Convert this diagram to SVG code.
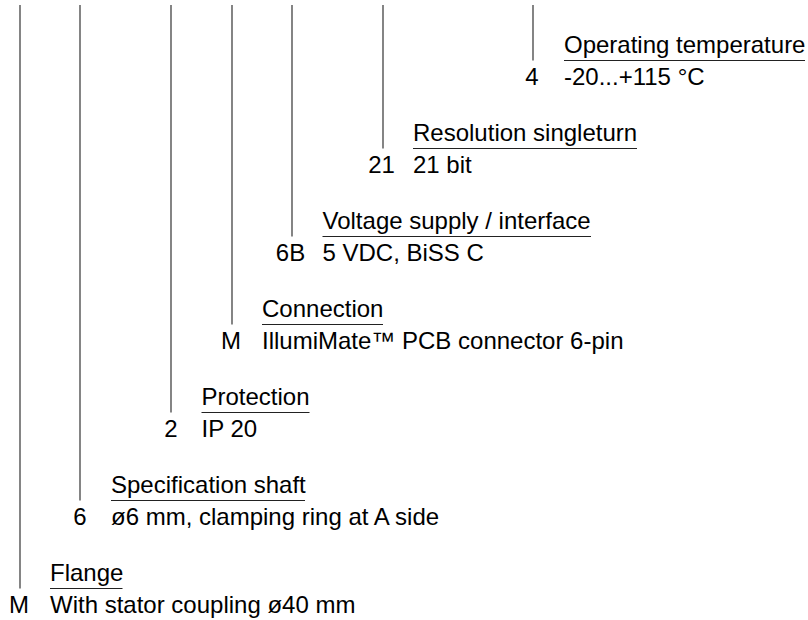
<svg xmlns="http://www.w3.org/2000/svg" width="808" height="620" viewBox="0 0 808 620">
<style>
text{font-family:"Liberation Sans",Arial,sans-serif;font-size:24px;fill:#000}
.code{text-anchor:middle}
.ul{stroke:#222;stroke-width:1.2}
.conn line{stroke:#333;stroke-width:1.2}
</style>
<rect width="808" height="620" fill="#fff"/>
<g id="connectors" class="conn">
<line x1="533" y1="5" x2="533" y2="60.5"/>
<line x1="383" y1="5" x2="383" y2="148.5"/>
<line x1="292" y1="5" x2="292" y2="236.5"/>
<line x1="232" y1="5" x2="232" y2="324.5"/>
<line x1="171" y1="5" x2="171" y2="412.5"/>
<line x1="80" y1="5" x2="80" y2="500.5"/>
<line x1="20" y1="5" x2="20" y2="588.5"/>
</g>
<g id="operating-temperature">
<text x="564" y="53">Operating temperature</text>
<line class="ul" x1="564" y1="60.5" x2="805" y2="60.5"/>
<text class="code" x="532" y="85">4</text>
<text x="564" y="85">-20...+115 °C</text>
</g>
<g id="resolution-singleturn">
<text x="413" y="141">Resolution singleturn</text>
<line class="ul" x1="413" y1="148.5" x2="637" y2="148.5"/>
<text class="code" x="381.5" y="173">21</text>
<text x="413" y="173">21 bit</text>
</g>
<g id="voltage-supply">
<text x="322.5" y="229">Voltage supply / interface</text>
<line class="ul" x1="322.5" y1="236.5" x2="591" y2="236.5"/>
<text class="code" x="290.5" y="261">6B</text>
<text x="322.5" y="261">5 VDC, BiSS C</text>
</g>
<g id="connection">
<text x="262" y="317">Connection</text>
<line class="ul" x1="262" y1="324.5" x2="383" y2="324.5"/>
<text class="code" x="231" y="349">M</text>
<text x="262" y="349">IllumiMate™ PCB connector 6-pin</text>
</g>
<g id="protection">
<text x="201.5" y="405">Protection</text>
<line class="ul" x1="201.5" y1="412.5" x2="309.5" y2="412.5"/>
<text class="code" x="171" y="437">2</text>
<text x="201.5" y="437">IP 20</text>
</g>
<g id="specification-shaft">
<text x="111" y="493">Specification shaft</text>
<line class="ul" x1="111" y1="500.5" x2="305" y2="500.5"/>
<text class="code" x="80" y="525">6</text>
<text x="111" y="525">ø6 mm, clamping ring at A side</text>
</g>
<g id="flange">
<text x="50" y="581">Flange</text>
<line class="ul" x1="50" y1="588.5" x2="122.5" y2="588.5"/>
<text class="code" x="19" y="613">M</text>
<text x="50" y="613">With stator coupling ø40 mm</text>
</g>
</svg>
